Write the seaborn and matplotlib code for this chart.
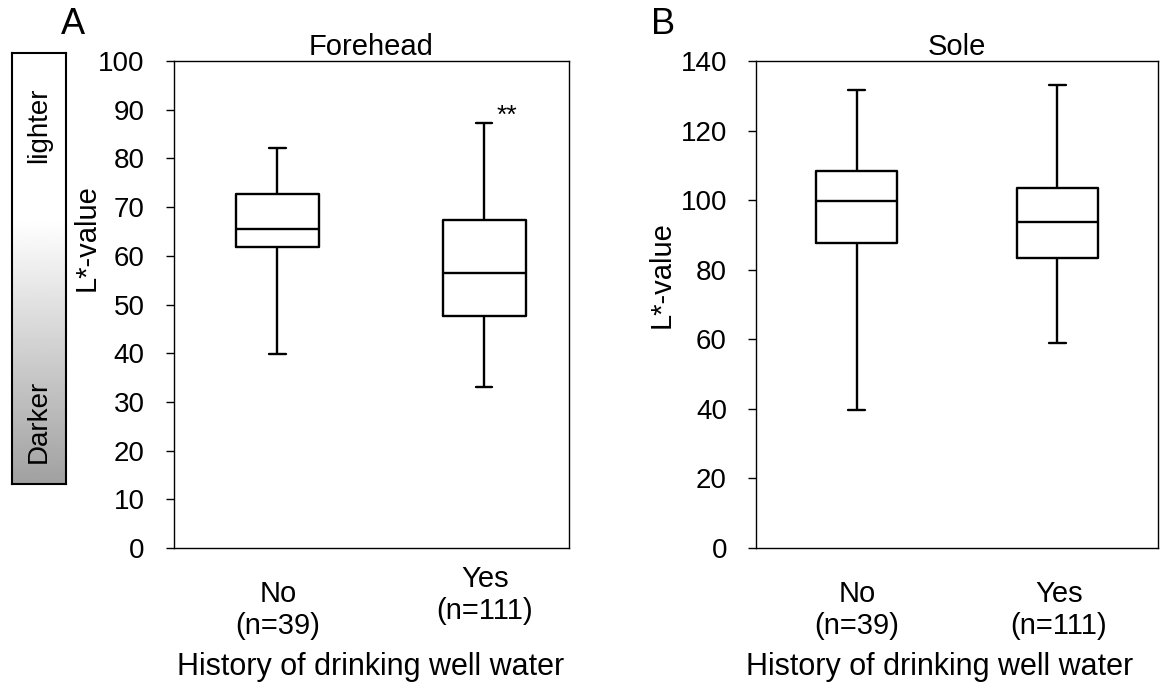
import matplotlib
matplotlib.use("Agg")
import matplotlib.pyplot as plt
import seaborn as sns
import pandas as pd
import numpy as np

# five-number summaries: whisker low, Q1, median, Q3, whisker high
groups = ["No", "Yes"]
group_labels = ["No\n(n=39)", "Yes\n(n=111)"]
forehead_no = [39.8, 61.8, 65.5, 72.7, 82.1]
forehead_yes = [33.1, 47.6, 56.5, 67.4, 87.3]
sole_no = [39.7, 87.7, 99.7, 108.4, 131.6]
sole_yes = [58.9, 83.4, 93.7, 103.5, 133.1]

forehead_ticks = [0, 10, 20, 30, 40, 50, 60, 70, 80, 90, 100]
sole_ticks = [0, 20, 40, 60, 80, 100, 120, 140]

sns.set_style("white")
plt.rcParams["font.family"] = ["Liberation Sans", "DejaVu Sans"]
plt.rcParams["text.color"] = "black"
plt.rcParams["axes.labelcolor"] = "black"
plt.rcParams["xtick.color"] = "black"
plt.rcParams["ytick.color"] = "black"

def make_df(no, yes):
    return pd.DataFrame({"group": ["No"] * len(no) + ["Yes"] * len(yes),
                         "value": no + yes})

fig = plt.figure(figsize=(11.61, 6.95), dpi=100)
axA = fig.add_axes([0.1499, 0.2115, 0.3402, 0.7007])
axB = fig.add_axes([0.6512, 0.2115, 0.3462, 0.7007])


def draw_panel(ax, df, ticks, xlim):
    sns.boxplot(data=df, x="group", y="value", order=groups, ax=ax,
                whis=(0, 100), width=0.4, fill=False, color="black",
                linecolor="black", linewidth=1.7, showfliers=False,
                capwidths=0.08)
    ax.set_ylim(ticks[0], ticks[-1])
    ax.set_yticks(ticks)
    ax.set_xlim(*xlim)
    ax.set_xticks([])
    ax.set_xlabel("")
    ax.set_ylabel("")
    for s in ax.spines.values():
        s.set_visible(True)
        s.set_color("black")
        s.set_linewidth(1.0)
    ax.tick_params(axis="y", direction="out", length=6, width=1.0,
                   left=True, pad=15, labelsize=20, colors="black")


draw_panel(axA, make_df(forehead_no, forehead_yes), forehead_ticks, (-0.5, 1.41))
draw_panel(axB, make_df(sole_no, sole_yes), sole_ticks, (-0.5, 1.5))

axA.set_title("Forehead", fontsize=21, pad=2, color="black")
axB.set_title("Sole", fontsize=21, pad=2, color="black")

# significance mark
axA.text(1.06, forehead_yes[-1] + 1.4, "**", fontsize=19, ha="left", va="center")

# category labels (Yes in panel A sits a little higher)
fig.text(278 / 1161, 1 - 610 / 695, group_labels[0], ha="center", va="center",
         fontsize=21, linespacing=1.15)
fig.text(485 / 1161, 1 - 595 / 695, group_labels[1], ha="center", va="center",
         fontsize=21, linespacing=1.15)
fig.text(857 / 1161, 1 - 610 / 695, group_labels[0], ha="center", va="center",
         fontsize=21, linespacing=1.15)
fig.text(1059 / 1161, 1 - 610 / 695, group_labels[1], ha="center", va="center",
         fontsize=21, linespacing=1.15)

fig.text(371 / 1161, 1 - 667 / 695, "History of drinking well water",
         ha="center", va="center", fontsize=22)
fig.text(940 / 1161, 1 - 667 / 695, "History of drinking well water",
         ha="center", va="center", fontsize=22)

fig.text(87 / 1161, 1 - 238 / 695, "L*-value", rotation=90, ha="center",
         va="center", fontsize=21)
fig.text(662 / 1161, 1 - 275 / 695, "L*-value", rotation=90, ha="center",
         va="center", fontsize=21)

fig.text(73 / 1161, 1 - 25 / 695, "A", ha="center", va="center", fontsize=26)
fig.text(663 / 1161, 1 - 25 / 695, "B", ha="center", va="center", fontsize=26)

# lightness gradient bar
axG = fig.add_axes([12 / 1161, 1 - 484 / 695, 54 / 1161, 431 / 695])
rows = np.linspace(0, 1, 300)
start = (220 - 53) / 431
shade = np.where(rows < start, 1.0, 1.0 - 0.37 * (rows - start) / (1 - start))
img = np.repeat(shade[:, None], 2, axis=1)
axG.imshow(img, cmap="gray", vmin=0, vmax=1, aspect="auto",
           extent=(0, 1, 0, 1), origin="upper")
axG.set_xlim(0, 1)
axG.set_ylim(0, 1)
axG.set_xticks([])
axG.set_yticks([])
for s in axG.spines.values():
    s.set_visible(True)
    s.set_color("black")
    s.set_linewidth(1.5)
axG.text(0.5, 1 - (125 - 53) / 431, "lighter", rotation=90, ha="center",
         va="center", fontsize=20, transform=axG.transAxes)
axG.text(0.5, 1 - (421 - 53) / 431, "Darker", rotation=90, ha="center",
         va="center", fontsize=20, transform=axG.transAxes)

fig.savefig("out.png", dpi=100)
